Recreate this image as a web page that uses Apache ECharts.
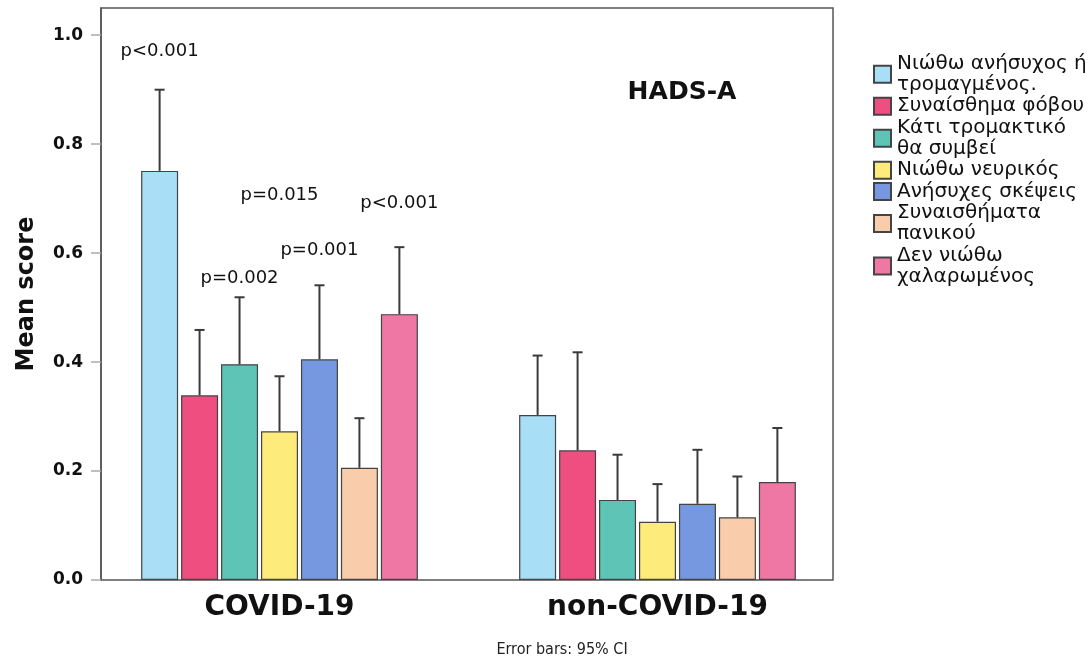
<!DOCTYPE html>
<html>
<head>
<meta charset="utf-8">
<script src="https://cdn.jsdelivr.net/npm/echarts@6/dist/echarts.min.js"></script>
<style>
  html, body { margin: 0; padding: 0; background: #fff; }
  #chart { width: 1088px; height: 657px; }
</style>
</head>
<body>
<div id="chart"></div>
<script>
const categories = ['COVID-19', 'non-COVID-19'];
const itemNames = [
  'Νιώθω ανήσυχος ή\nτρομαγμένος.',
  'Συναίσθημα φόβου',
  'Κάτι τρομακτικό\nθα συμβεί',
  'Νιώθω νευρικός',
  'Ανήσυχες σκέψεις',
  'Συναισθήματα\nπανικού',
  'Δεν νιώθω\nχαλαρωμένος'
];
const itemColors = ['#a8def6', '#ee4f80', '#5ec5b6', '#fdeb7c', '#7698e0', '#f9ccac', '#ee77a3'];

// mean scores per item, [COVID-19, non-COVID-19]
const covidMeans = [0.751, 0.339, 0.396, 0.273, 0.405, 0.206, 0.488];
const nonCovidMeans = [0.303, 0.238, 0.147, 0.107, 0.140, 0.115, 0.180];
// upper end of the 95% CI
const covidUpper = [0.900, 0.459, 0.519, 0.374, 0.541, 0.297, 0.611];
const nonCovidUpper = [0.412, 0.418, 0.230, 0.176, 0.239, 0.190, 0.279];

// p-value annotations above the COVID-19 bars
const pTexts = ['p<0.001', 'p=0.002', 'p=0.015', 'p=0.001', 'p<0.001'];
const pBarIndex = [0, 2, 3, 4, 6];
const pTextY = [0.97, 0.554, 0.707, 0.606, 0.692];

const yTicks = [0, 0.2, 0.4, 0.6, 0.8, 1.0];

const BAR_W = 37;
const BAR_GAP = 0.08;
const STEP = BAR_W * (1 + BAR_GAP);
const barOffset = (i) => (i - (itemNames.length - 1) / 2) * STEP;

const errData = [];
itemNames.forEach((_, i) => {
  errData.push([0, i, covidMeans[i], covidUpper[i]]);
  errData.push([1, i, nonCovidMeans[i], nonCovidUpper[i]]);
});
const pData = pTexts.map((_, k) => [0, pBarIndex[k], pTextY[k]]);

const barSeries = itemNames.map((name, i) => ({
  name: name,
  type: 'bar',
  barWidth: BAR_W,
  barGap: (BAR_GAP * 100) + '%',
  data: [covidMeans[i], nonCovidMeans[i]],
  itemStyle: { color: itemColors[i], borderColor: '#444', borderWidth: 1.2 },
  emphasis: { disabled: true },
  z: 2
}));

const errSeries = {
  type: 'custom',
  name: 'ci',
  data: errData,
  encode: { x: 0, y: [2, 3] },
  z: 3,
  silent: true,
  renderItem(params, api) {
    const base = api.coord([api.value(0), api.value(2)]);
    const top = api.coord([api.value(0), api.value(3)]);
    const x = base[0] + barOffset(api.value(1));
    const st = { stroke: '#3a3a3a', lineWidth: 2 };
    return {
      type: 'group',
      children: [
        { type: 'line', shape: { x1: x, y1: base[1], x2: x, y2: top[1] }, style: st },
        { type: 'line', shape: { x1: x - 5, y1: top[1], x2: x + 5, y2: top[1] }, style: st }
      ]
    };
  }
};

const pSeries = {
  type: 'custom',
  name: 'p',
  data: pData,
  encode: { x: 0, y: 2 },
  z: 4,
  silent: true,
  renderItem(params, api) {
    const pt = api.coord([api.value(0), api.value(2)]);
    return {
      type: 'text',
      style: {
        x: pt[0] + barOffset(api.value(1)),
        y: pt[1],
        text: pTexts[params.dataIndex],
        align: 'center',
        verticalAlign: 'middle',
        font: '18px "DejaVu Sans"',
        fill: '#111'
      }
    };
  }
};

const chart = echarts.init(document.getElementById('chart'), null, { renderer: 'canvas' });
chart.setOption({
  animation: false,
  backgroundColor: '#fff',
  grid: [
    // data grid (category bands are a bit wider than the frame)
    { left: 90.5, right: 241.5, top: 8, bottom: 77 },
    // frame
    { left: 101, right: 255, top: 8, bottom: 77, show: true, borderColor: '#555', borderWidth: 1.5, backgroundColor: 'transparent' }
  ],
  legend: {
    data: itemNames,
    orient: 'vertical',
    left: 873,
    top: 53,
    padding: 0,
    itemWidth: 17,
    itemHeight: 17,
    itemGap: 0,
    icon: 'rect',
    textStyle: { fontFamily: 'DejaVu Sans', fontSize: 20, color: '#111', lineHeight: 21.3, padding: [0, 0, 0, 1] },
    selectedMode: false
  },
  title: [
    {
      text: 'HADS-A', left: 677, top: 87, textAlign: 'center', textVerticalAlign: 'middle',
      textStyle: { fontFamily: 'DejaVu Sans', fontWeight: 'bold', fontSize: 25, color: '#111' }
    },
    {
      text: 'Error bars: 95% CI', left: 557, top: 645, textAlign: 'center', textVerticalAlign: 'middle',
      textStyle: { fontFamily: '"Liberation Sans Narrow", "DejaVu Sans Condensed", "Liberation Sans"', fontWeight: 'normal', fontSize: 16, color: '#222' }
    }
  ],
  xAxis: [
    {
      type: 'category',
      gridIndex: 0,
      data: categories,
      axisLine: { show: false },
      axisTick: { show: false },
      axisLabel: {
        margin: 14,
        fontFamily: 'DejaVu Sans', fontWeight: 'bold', fontSize: 28, color: '#111'
      }
    },
    { type: 'value', gridIndex: 1, show: false }
  ],
  yAxis: [
    {
      type: 'value',
      gridIndex: 0,
      min: 0,
      max: 1.05,
      offset: -10.5,
      name: 'Mean score',
      nameLocation: 'middle',
      nameGap: 62,
      nameTextStyle: { fontFamily: 'DejaVu Sans', fontWeight: 'bold', fontSize: 24, color: '#111' },
      axisLine: { show: true, lineStyle: { color: '#555', width: 1.5 } },
      axisTick: { show: true, length: 10, customValues: yTicks, lineStyle: { color: '#aaa', width: 1.5 } },
      axisLabel: {
        customValues: yTicks,
        margin: 18,
        formatter: (v) => v.toFixed(1),
        fontFamily: 'DejaVu Sans', fontWeight: 'bold', fontSize: 17, color: '#111'
      },
      splitLine: { show: false }
    },
    { type: 'value', gridIndex: 1, show: false }
  ],
  series: [...barSeries, errSeries, pSeries]
});
</script>
</body>
</html>
